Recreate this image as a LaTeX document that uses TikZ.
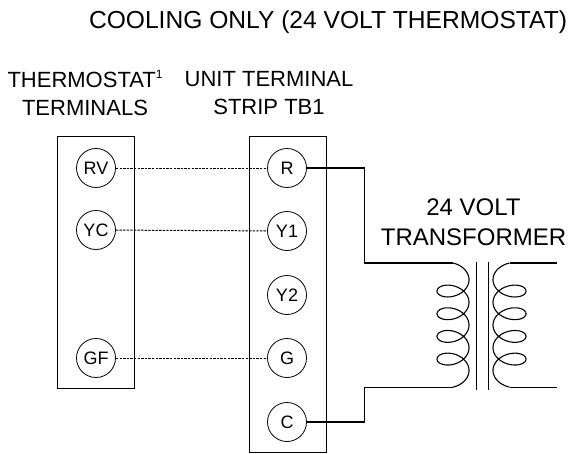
\documentclass[tikz,border=0pt]{standalone}
\usepackage{fontspec}
\setmainfont{Liberation Sans}
\begin{document}
\begin{tikzpicture}[x=1pt, y=-1pt, line width=0.8pt,
		term/.style={draw, circle, minimum size=39pt, inner sep=0pt, font=\fontsize{18}{18}\selectfont},
		jumper/.style={line width=1pt, dash pattern=on 2.4pt off 1.2pt},
		wire/.style={line width=1.1pt},
		label/.style={align=center, font=\fontsize{22}{28}\selectfont}]
			\useasboundingbox (0, 0) rectangle (568, 453);
			\node[font=\fontsize{24.6}{24.6}\selectfont] (title) at (328, 22) {COOLING ONLY (24 VOLT THERMOSTAT)};
			\node[label] (tstat) at (85, 93) {THERMOSTAT\raisebox{0.75ex}{\fontsize{12}{12}\selectfont 1}\\TERMINALS};
			\node[label] (strip) at (269, 93) {UNIT TERMINAL\\STRIP TB1};
			\node[align=center, font=\fontsize{24}{30}\selectfont] (xfmr) at (473.5, 222) {24 VOLT\\TRANSFORMER};
			\draw (57, 136) rectangle (134, 388);
			\draw (249, 136) rectangle (326, 452);
			\node[term] (RV) at (96, 168) {RV};
			\node[term] (YC) at (96, 230) {YC};
			\node[term] (GF) at (96, 358) {GF};
			\node[term] (R) at (287, 168) {R};
			\node[term] (Y1) at (287, 231) {Y1};
			\node[term] (Y2) at (287, 295) {Y2};
			\node[term] (G) at (287, 358) {G};
			\node[term] (C) at (287, 422) {C};
			\draw[jumper] (RV) -- (R);
			\draw[jumper] (YC) -- (Y1);
			\draw[jumper] (GF) -- (G);
			\coordinate (ptop) at (453, 263);
			\coordinate (pbot) at (453, 387.1);
			\coordinate (stop) at (509.5, 263);
			\coordinate (sbot) at (509.5, 387.1);
			\draw[wire] plot[domain=-1.5708:26.7035, samples=260, smooth, variable=\t] ({453+16*cos(\t r)}, {279.7+3.61*\t+11*sin(\t r)});
			\draw[wire] plot[domain=-1.5708:26.7035, samples=260, smooth, variable=\t] ({509.5-16.5*cos(\t r)}, {279.7+3.61*\t+11*sin(\t r)});
			\draw[wire] (R.east) -- ++(58, 0) |- (ptop);
			\draw[wire] (C.east) -- ++(58, 0) |- (pbot);
			\draw[wire] (stop) -- ++(47.5, 0);
			\draw[wire] (sbot) -- ++(47.5, 0);
			\draw (476, 262) -- (476, 390);
			\draw (488, 262) -- (488, 390);
		\end{tikzpicture}
\end{document}
